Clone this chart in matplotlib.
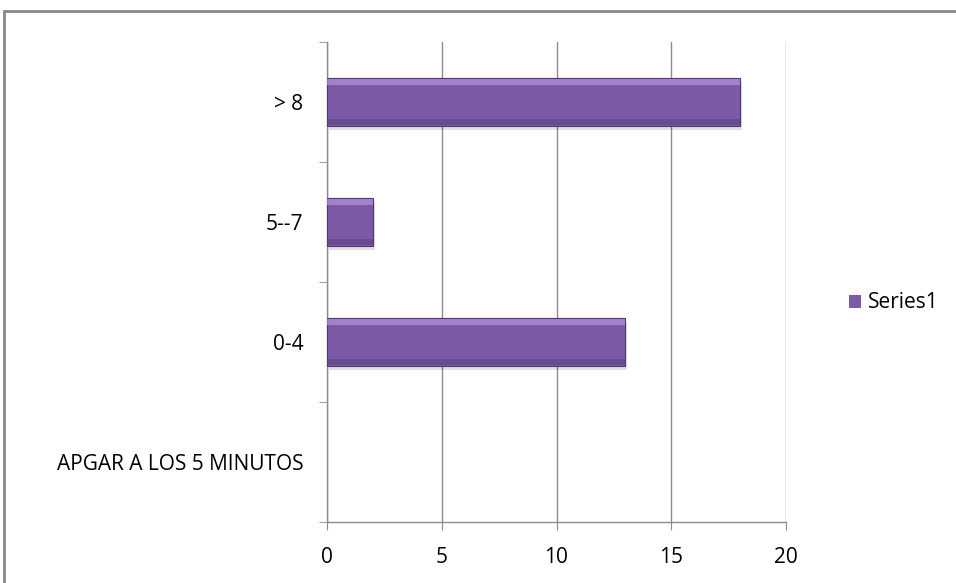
import matplotlib.pyplot as plt
from matplotlib.patches import Rectangle

# Apgar score at 5 minutes
categories = ["APGAR A LOS 5 MINUTOS", "0-4", "5--7", "> 8"]
values = [0, 13, 2, 18]
series_name = "Series1"
x_ticks = [0, 5, 10, 15, 20]

bar_color = "#7B5AA6"
edge_color = "#4E3670"
grid_color = "#8C8C8C"

plt.rcParams["font.family"] = ["Open Sans", "DejaVu Sans"]

fig = plt.figure(figsize=(9.56, 5.83), dpi=100)
ax = fig.add_axes([327 / 956, 1 - 522 / 583, (786 - 327) / 956, (522 - 42) / 583])

pos = list(range(len(categories)))
edge_widths = [0.8 if v else 0 for v in values]
# soft shadow, main bar, then light/dark bands for the bevel look
ax.barh([p - 0.03 for p in pos], values, height=0.4, left=0.08,
        color="#000000", alpha=0.12, linewidth=0, zorder=2)
ax.barh(pos, values, height=0.4, color=bar_color, edgecolor=edge_color,
        linewidth=edge_widths, zorder=3, label=series_name)
ax.barh([p + 0.165 for p in pos], values, height=0.05, color="#B594DE",
        alpha=0.7, linewidth=0, zorder=4)
ax.barh([p - 0.17 for p in pos], values, height=0.05, color="#5E4285",
        alpha=0.6, linewidth=0, zorder=4)

ax.set_xlim(0, 20)
ax.set_ylim(-0.5, len(categories) - 0.5)
ax.set_xticks(x_ticks)
ax.set_yticks(pos)
ax.set_yticklabels(categories)
ax.set_yticks([p - 0.5 for p in range(len(categories) + 1)], minor=True)

ax.xaxis.grid(True, color=grid_color, linewidth=1)
ax.set_axisbelow(True)
for side in ["top", "right"]:
    ax.spines[side].set_visible(False)
for side in ["left", "bottom"]:
    ax.spines[side].set_color(grid_color)
    ax.spines[side].set_linewidth(1)

ax.tick_params(axis="x", length=6, color=grid_color, labelsize=15, pad=12)
ax.tick_params(axis="y", which="major", length=0, labelsize=15, pad=17)
ax.tick_params(axis="y", which="minor", length=6, color=grid_color)

leg = fig.legend(loc="center left", bbox_to_anchor=(830 / 956, 1 - 303 / 583),
                 frameon=False, fontsize=15, handlelength=0.6, handleheight=0.6,
                 handletextpad=0.3)

# chart border
fig.patches.append(Rectangle((4 / 956, -0.05), 1.0, 1 - 11 / 583 + 0.05,
                             transform=fig.transFigure, fill=False,
                             edgecolor="#888888", linewidth=2))

fig.savefig("out.png", dpi=100)
